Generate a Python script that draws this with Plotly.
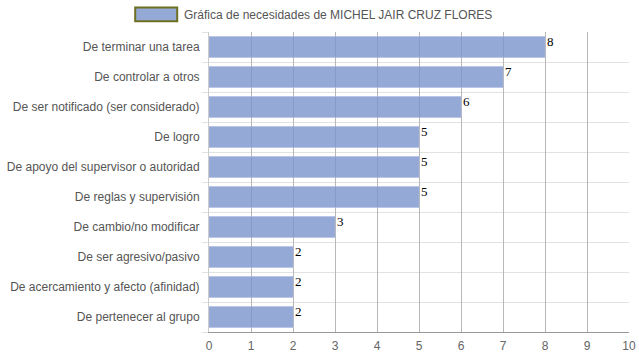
import plotly.graph_objects as go

categories = [
    "De terminar una tarea",
    "De controlar a otros",
    "De ser notificado (ser considerado)",
    "De logro",
    "De apoyo del supervisor o autoridad",
    "De reglas y supervisión",
    "De cambio/no modificar",
    "De ser agresivo/pasivo",
    "De acercamiento y afecto (afinidad)",
    "De pertenecer al grupo",
]
values = [8, 7, 6, 5, 5, 5, 3, 2, 2, 2]
series_name = "Gráfica de necesidades de MICHEL JAIR CRUZ FLORES"
x_ticks = list(range(0, 11))

n = len(categories)
ypos = list(range(n))

fig = go.Figure()
fig.add_trace(go.Bar(
    x=values, y=ypos, orientation="h", width=0.7,
    marker=dict(color="rgba(123,148,204,0.8)", line=dict(color="rgba(170,185,225,1)", width=0.5)),
    showlegend=False, hoverinfo="skip",
))

for yi, v in zip(ypos, values):
    fig.add_annotation(x=v, y=yi, text=str(v), showarrow=False,
                       xanchor="left", yanchor="top", xshift=0, yshift=15,
                       font=dict(family="Liberation Serif, Times New Roman, serif", size=13, color="#000"))

# legend drawn in paper coords
fig.add_shape(type="rect", xref="paper", yref="paper",
              x0=-0.1757, x1=-0.0757, y0=1.0355, y1=1.0815,
              line=dict(color="#6f6f22", width=2), fillcolor="#95a9d6")
fig.add_annotation(xref="paper", yref="paper", x=-0.064, y=1.058, text=series_name,
                   showarrow=False, xanchor="left", yanchor="middle",
                   font=dict(family="Liberation Sans", size=12, color="#555"))

fig.update_layout(
    width=639, height=360,
    margin=dict(l=209, r=10, t=32, b=28),
    paper_bgcolor="white", plot_bgcolor="white",
    font=dict(family="Liberation Sans", size=12, color="#555"),
    showlegend=False,
    bargap=0.3,
)
fig.update_xaxes(range=[0, 10], tickvals=x_ticks, showgrid=True, gridcolor="#b8b8b8",
                 gridwidth=1, zeroline=False, showline=True, linecolor="#999",
                 ticks="", tickfont=dict(color="#666", size=12), fixedrange=True,
                 automargin=False, ticklabelstandoff=3)
fig.update_yaxes(range=[n - 0.5, -0.5], tickvals=ypos, ticktext=categories,
                 showgrid=False, zeroline=False, showline=True, linecolor="#ccc",
                 ticks="", tickfont=dict(color="#555", size=12), ticklabelstandoff=6,
                 minor=dict(tick0=0.5, dtick=1, showgrid=True, gridcolor="#e2e2e2",
                            ticks="outside", ticklen=6, tickcolor="#e2e2e2"),
                 fixedrange=True, automargin=False)

fig.write_html("out.html", config={"displayModeBar": False},
               post_script="document.body.style.margin='0';")
